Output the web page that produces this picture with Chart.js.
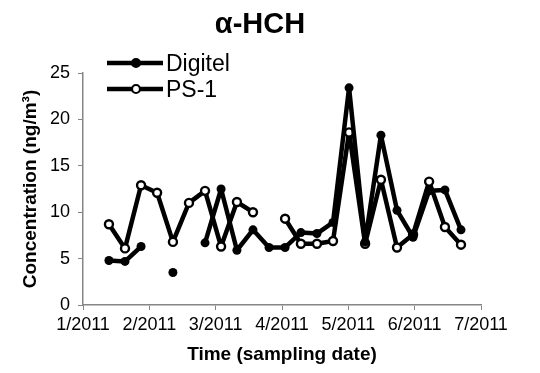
<!DOCTYPE html>
<html>
<head>
<meta charset="utf-8">
<script src="https://cdn.jsdelivr.net/npm/chart.js@4.4.1/dist/chart.umd.min.js"></script>
<style>
  html, body { margin: 0; padding: 0; background: #fff; }
  #wrap { width: 540px; height: 373px; }
</style>
</head>
<body>
<div id="wrap"><canvas id="chart" width="540" height="373"></canvas></div>
<script>
// sampling dates, in days after 1 Jan 2011
const sampleDays = [11.8, 19.1, 26.4, 33.7, 40.9, 48.2, 55.5, 62.8, 70.0, 77.3, 84.6, 91.9,
  99.1, 106.4, 113.7, 121.0, 128.3, 135.5, 142.8, 150.1, 157.4, 164.6, 171.9];

// concentrations (ng/m3), null = no sample
const digitel = [4.8, 4.7, 6.3, null, 3.5, null, 6.7, 12.5, 5.9, 8.1, 6.2, 6.2,
  7.8, 7.7, 8.9, 23.4, 6.8, 18.3, 10.2, 7.3, 12.3, 12.4, 8.1];
const ps1 = [8.7, 6.1, 12.9, 12.1, 6.8, 11.0, 12.3, 6.3, 11.1, 10.0, null, 9.3,
  6.6, 6.6, 6.9, 18.6, 6.6, 13.5, 6.2, 7.6, 13.3, 8.4, 6.5];

const monthLabels = ['1/2011', '2/2011', '3/2011', '4/2011', '5/2011', '6/2011', '7/2011'];
const axisDays = 181;

const FONT = "'Liberation Sans', Arial, sans-serif";
const AXIS_GREY = '#868686';

function toPoints(values) {
  return values.map((v, i) => ({ x: sampleDays[i], y: v }));
}

// title and legend drawn by hand, Excel style
const decorations = {
  id: 'decorations',
  afterDraw(chart) {
    const c = chart.ctx;
    c.save();
    c.fillStyle = '#000';
    c.font = 'bold 29px ' + FONT;
    c.textAlign = 'center';
    c.textBaseline = 'alphabetic';
    c.fillText('α-HCH', 260, 33);

    const rows = [
      { label: 'Digitel', y: 63, filled: true },
      { label: 'PS-1', y: 89, filled: false },
    ];
    rows.forEach(r => {
      c.strokeStyle = '#000';
      c.lineWidth = 4.5;
      c.beginPath();
      c.moveTo(107, r.y);
      c.lineTo(163, r.y);
      c.stroke();
      c.beginPath();
      c.arc(136, r.y, 4, 0, Math.PI * 2);
      c.fillStyle = r.filled ? '#000' : '#fff';
      c.fill();
      c.lineWidth = 2.2;
      c.stroke();
      c.fillStyle = '#000';
      c.font = '23px ' + FONT;
      c.textAlign = 'left';
      c.fillText(r.label, 166, r.y + 8);
    });
    c.restore();
  }
};

const ctx = document.getElementById('chart').getContext('2d');
new Chart(ctx, {
  type: 'line',
  data: {
    datasets: [
      {
        label: 'Digitel',
        data: toPoints(digitel),
        borderColor: '#000',
        backgroundColor: '#000',
        borderWidth: 4.5,
        borderJoinStyle: 'round',
        borderCapStyle: 'round',
        pointRadius: 4.5,
        pointBorderWidth: 0,
        pointBackgroundColor: '#000',
        tension: 0,
        spanGaps: false,
      },
      {
        label: 'PS-1',
        data: toPoints(ps1),
        borderColor: '#000',
        backgroundColor: '#fff',
        borderWidth: 4.5,
        borderJoinStyle: 'round',
        borderCapStyle: 'round',
        pointRadius: 4,
        pointBorderWidth: 2.4,
        pointBorderColor: '#000',
        pointBackgroundColor: '#fff',
        tension: 0,
        spanGaps: false,
      },
    ],
  },
  options: {
    responsive: false,
    animation: false,
    layout: { padding: { top: 73, right: 59, left: 0, bottom: 0 } },
    plugins: {
      legend: { display: false },
      title: { display: false },
      tooltip: { enabled: false },
    },
    scales: {
      x: {
        type: 'linear',
        min: 0,
        max: axisDays,
        afterBuildTicks: (scale) => {
          scale.ticks = monthLabels.map((_, i) => ({ value: i * axisDays / 6 }));
        },
        afterFit: (scale) => { scale.height = 68; },
        ticks: {
          autoSkip: false,
          maxRotation: 0,
          padding: 4,
          color: '#000',
          font: { family: FONT, size: 18 },
          callback: (value, index) => monthLabels[index],
        },
        grid: {
          drawOnChartArea: false,
          drawTicks: true,
          tickLength: 5,
          color: AXIS_GREY,
        },
        border: { color: AXIS_GREY, width: 1.5 },
        title: {
          display: true,
          text: 'Time (sampling date)',
          color: '#000',
          font: { family: FONT, size: 19, weight: 'bold' },
          padding: { top: 0, bottom: 7 },
        },
      },
      y: {
        min: 0,
        max: 25,
        afterFit: (scale) => { scale.width = 83; },
        ticks: {
          stepSize: 5,
          padding: 8,
          color: '#000',
          font: { family: FONT, size: 18 },
        },
        grid: {
          drawOnChartArea: false,
          drawTicks: true,
          tickLength: 5,
          color: AXIS_GREY,
        },
        border: { color: AXIS_GREY, width: 1.5 },
        title: {
          display: true,
          text: 'Concentration (ng/m³)',
          color: '#000',
          font: { family: FONT, size: 19, weight: 'bold' },
          padding: { top: 19, bottom: 0 },
        },
      },
    },
  },
  plugins: [decorations],
});
</script>
</body>
</html>
